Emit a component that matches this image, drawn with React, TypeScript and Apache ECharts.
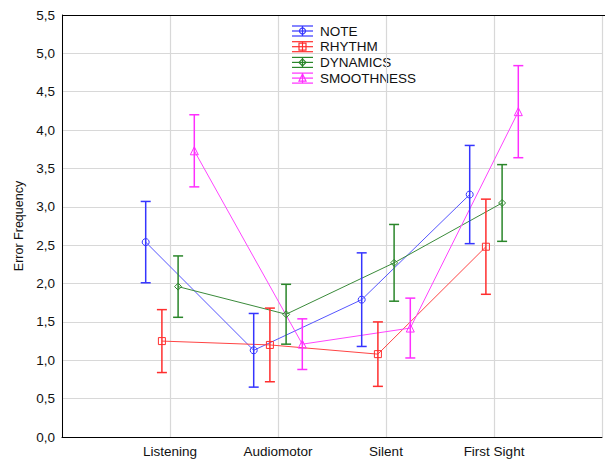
import React, { useEffect, useRef } from "react";
import * as echarts from "echarts";

const categories = ["Listening", "Audiomotor", "Silent", "First Sight"];
const seriesNames = ["NOTE", "RHYTHM", "DYNAMICS", "SMOOTHNESS"];
const noteMeans = [2.54, 1.13, 1.79, 3.16];
const noteErr = [0.53, 0.48, 0.61, 0.64];
const rhythmMeans = [1.25, 1.2, 1.08, 2.48];
const rhythmErr = [0.41, 0.48, 0.42, 0.62];
const dynamicsMeans = [1.96, 1.6, 2.27, 3.05];
const dynamicsErr = [0.4, 0.39, 0.5, 0.5];
const smoothMeans = [3.73, 1.21, 1.42, 4.24];
const smoothErr = [0.47, 0.33, 0.39, 0.6];
const yTicks = ["0,0", "0,5", "1,0", "1,5", "2,0", "2,5", "3,0", "3,5", "4,0", "4,5", "5,0", "5,5"];

const means = [noteMeans, rhythmMeans, dynamicsMeans, smoothMeans];
const errs = [noteErr, rhythmErr, dynamicsErr, smoothErr];
const colors = ["#3535ff", "#ff2e2e", "#2a862a", "#ff2eff"];
const lineColors = ["#5555ff", "#ff4444", "#3a8a3a", "#ff44ff"];
const symbols = ["circle", "rect", "diamond", "triangle"];
const offsets = [-0.225, -0.075, 0.075, 0.225];
const FONT = "'Liberation Sans', Arial, sans-serif";
const FS = 13.5;

export default function App() {
  const ref = useRef<HTMLDivElement>(null);
  useEffect(() => {
    if (!ref.current) return;
    const chart = echarts.init(ref.current, null, { renderer: "svg" });
    const series: any[] = [];
    seriesNames.forEach((name, s) => {
      const pts = categories.map((_, i) => [i + 1 + offsets[s], means[s][i]]);
      series.push({
        name,
        type: "line",
        data: pts,
        symbol: symbols[s],
        symbolSize: s === 3 ? 8 : 7,
        lineStyle: { color: lineColors[s], width: 1 },
        itemStyle: { color: "rgba(255,255,255,0)", borderColor: colors[s], borderWidth: 1 },
        z: 3,
      });
      const eb = categories.map((_, i) => [
        i + 1 + offsets[s],
        means[s][i] - errs[s][i],
        means[s][i] + errs[s][i],
      ]);
      series.push({
        name: name + "_err",
        type: "custom",
        data: eb,
        encode: { x: 0, y: [1, 2] },
        z: 4,
        renderItem: (params: any, api: any) => {
          const x = api.value(0);
          const lo = api.coord([x, api.value(1)]);
          const hi = api.coord([x, api.value(2)]);
          const hw = 5;
          const st = { stroke: colors[s], lineWidth: 1.5 };
          return {
            type: "group",
            children: [
              { type: "line", shape: { x1: hi[0], y1: hi[1], x2: lo[0], y2: lo[1] }, style: st },
              { type: "line", shape: { x1: hi[0] - hw, y1: hi[1], x2: hi[0] + hw, y2: hi[1] }, style: st },
              { type: "line", shape: { x1: lo[0] - hw, y1: lo[1], x2: lo[0] + hw, y2: lo[1] }, style: st },
            ],
          };
        },
      });
    });

    const legendChildren: any[] = [];
    seriesNames.forEach((name, s) => {
      const y = 31 + s * 15.7;
      const c = colors[s];
      const st = { stroke: c, lineWidth: 1.2, fill: null };
      const cx = 302.5;
      legendChildren.push(
        { type: "line", shape: { x1: 292, y1: y - 5, x2: 313, y2: y - 5 }, style: st },
        { type: "line", shape: { x1: 292, y1: y + 5, x2: 313, y2: y + 5 }, style: st },
        { type: "line", shape: { x1: 292, y1: y, x2: 313, y2: y }, style: st },
        { type: "line", shape: { x1: cx, y1: y - 5, x2: cx, y2: y + 5 }, style: st }
      );
      if (s === 0) legendChildren.push({ type: "circle", shape: { cx, cy: y, r: 3 }, style: st });
      if (s === 1) legendChildren.push({ type: "rect", shape: { x: cx - 3.5, y: y - 3.5, width: 7, height: 7 }, style: st });
      if (s === 2)
        legendChildren.push({ type: "polygon", shape: { points: [[cx, y - 3.5], [cx + 3.5, y], [cx, y + 3.5], [cx - 3.5, y]] }, style: st });
      if (s === 3)
        legendChildren.push({ type: "polygon", shape: { points: [[cx, y - 4], [cx + 3.5, y + 3], [cx - 3.5, y + 3]] }, style: st });
      legendChildren.push({
        type: "text",
        x: 320,
        y,
        style: { text: name, fill: "#111", font: `${FS}px ${FONT}`, textVerticalAlign: "middle" },
      });
    });

    chart.setOption({
      animation: false,
      backgroundColor: "#fff",
      textStyle: { fontFamily: FONT },
      grid: { left: 62, top: 15, width: 555, bottom: 25, containLabel: false },
      xAxis: {
        type: "value",
        min: 0,
        max: 5,
        interval: 1,
        axisLine: { show: true, onZero: false, lineStyle: { color: "#000", width: 1 } },
        axisTick: { show: false },
        splitLine: { show: true, lineStyle: { color: "#d8d8d8", width: 1.2 } },
        axisLabel: {
          color: "#111",
          fontSize: FS,
          margin: 7,
          fontFamily: FONT,
          formatter: (v: number) => (v >= 1 && v <= 4 ? categories[v - 1] : ""),
        },
      },
      yAxis: {
        type: "value",
        min: 0,
        max: 5.5,
        interval: 0.5,
        name: "Error Frequency",
        nameLocation: "middle",
        nameGap: 36,
        nameTextStyle: { color: "#111", fontSize: 12.5, fontFamily: FONT },
        axisLine: { show: true, lineStyle: { color: "#000", width: 1 } },
        axisTick: { show: false },
        splitLine: { show: true, lineStyle: { color: "#d8d8d8", width: 1.2 } },
        axisLabel: {
          color: "#111",
          fontSize: FS,
          margin: 7,
          fontFamily: FONT,
          formatter: (v: number) => yTicks[Math.round(v * 2)],
        },
      },
      graphic: [
        { type: "line", shape: { x1: 62, y1: 15.5, x2: 605, y2: 15.5 }, style: { stroke: "#000", lineWidth: 1 }, z: 10 },
        { type: "group", children: legendChildren, z: 20 },
      ],
      series,
    });
    return () => chart.dispose();
  }, []);
  return <div ref={ref} style={{ position: "absolute", left: 0, top: 0, width: 605, height: 462 }} />;
}
